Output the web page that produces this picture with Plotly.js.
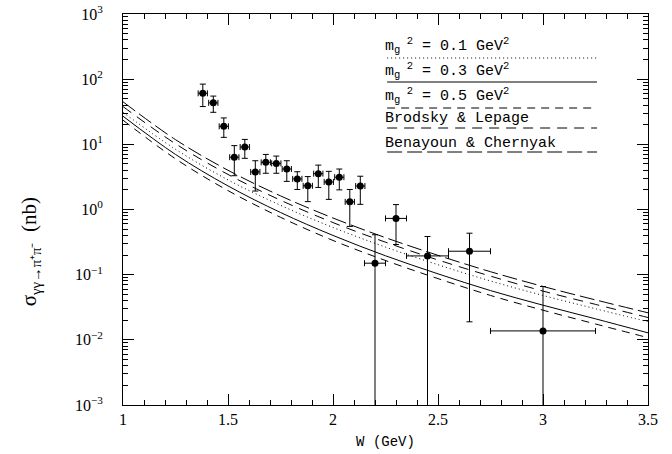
<!DOCTYPE html>
<html>
<head>
<meta charset="utf-8">
<script src="https://cdn.plot.ly/plotly-3.0.1.min.js"></script>
<style>html,body{margin:0;padding:0;background:#fff;}#chart{width:672px;height:454px;}</style>
</head>
<body>
<div id="chart"></div>
<script>
// ---- measured data points ----
var W = [1.38,1.43,1.48,1.53,1.58,1.63,1.68,1.73,1.78,1.83,1.88,1.93,1.98,2.03,2.08,2.13,2.20,2.30,2.45,2.65,3.00];
var sigma = [60.7,43.3,18.9,6.35,9.1,3.77,5.3,5.1,4.18,2.95,2.31,3.55,2.65,3.13,1.31,2.29,0.150,0.73,0.194,0.229,0.0137];
var sigmaHigh = [84,55,25.4,9.55,11.9,5.6,7.0,6.6,5.6,3.8,3.2,4.8,3.85,4.18,2.03,3.24,0.41,1.19,0.385,0.433,0.0658];
// 0 = error bar runs down past the bottom of the axis
var sigmaLow = [38,31,12.8,3.3,6.1,1.92,3.6,3.6,2.7,2.03,1.32,2.18,1.43,2.0,0.55,1.2,0,0.29,0,0.0189,0];
var Werr = [0.022,0.022,0.022,0.022,0.022,0.022,0.022,0.022,0.022,0.022,0.022,0.022,0.022,0.022,0.022,0.022,0.05,0.05,0.1,0.1,0.25];

// ---- theory curves ----
var Wc = [1,1.25,1.5,1.75,2,2.25,2.5,2.75,3,3.25,3.5];
var mg01 = [31,8.4,2.85,1.16,0.53,0.265,0.142,0.080,0.048,0.030,0.019];
var mg03 = [27,7.0,2.3,0.90,0.40,0.195,0.103,0.057,0.034,0.021,0.0128];
var mg05 = [23.5,6.0,1.95,0.76,0.335,0.165,0.087,0.048,0.0285,0.0175,0.0108];
var brodsky = [38,10.2,3.45,1.39,0.63,0.315,0.168,0.095,0.056,0.035,0.022];
var benayoun = [45,11.8,4.0,1.62,0.74,0.37,0.198,0.111,0.066,0.041,0.026];

var legendLabels = ["m<sub>g</sub><sup> 2</sup> = 0.1 GeV<sup>2</sup>",
                    "m<sub>g</sub><sup> 2</sup> = 0.3 GeV<sup>2</sup>",
                    "m<sub>g</sub><sup> 2</sup> = 0.5 GeV<sup>2</sup>",
                    "Brodsky & Lepage",
                    "Benayoun & Chernyak"];
var yTickVals = [0.001,0.01,0.1,1,10,100,1000];
var yTickText = ["10<sup>−3</sup>","10<sup>−2</sup>","10<sup>−1</sup>","10<sup>0</sup>","10<sup>1</sup>","10<sup>2</sup>","10<sup>3</sup>"];
var xTickVals = [1,1.5,2,2.5,3,3.5];
var xTickText = ["1","1.5","2","2.5","3","3.5"];

var dashes = ["1px,3px","solid","8px,6px","10px,7px","15px,5px"];
var curves = [mg01, mg03, mg05, brodsky, benayoun];

var errPlus = sigma.map(function(s,i){return sigmaHigh[i]-s;});
var errMinus = sigma.map(function(s,i){return sigmaLow[i] > 0 ? s - sigmaLow[i] : s*0.9999;});

var traces = curves.map(function(c,i){
  return {x: Wc, y: c, type:'scatter', mode:'lines',
          line:{color:'#000', width:1, dash:dashes[i], shape:'spline'},
          hoverinfo:'skip', showlegend:false};
});
traces.push({
  x: W, y: sigma, type:'scatter', mode:'markers',
  marker:{color:'#000', size:7, symbol:'circle'},
  error_y:{type:'data', array:errPlus, arrayminus:errMinus, symmetric:false, color:'#000', thickness:1, width:3},
  error_x:{type:'data', array:Werr, color:'#000', thickness:1, width:3},
  showlegend:false
});

var L = 122.7, R = 648, T = 14, B = 405;
var pw = R-L, ph = B-T;
function px(x){return (x-L)/pw;}
function py(y){return 1-(y-T)/ph;}

var shapes = [];
var annotations = [];
var lineY = [58,82,108,128,152];
var textY = [46,70,95,118,143];
for (var i=0;i<5;i++){
  shapes.push({type:'line', xref:'paper', yref:'paper', x0:px(387), x1:px(597), y0:py(lineY[i]), y1:py(lineY[i]),
               line:{color:'#000', width:1, dash:dashes[i]}});
  annotations.push({xref:'paper', yref:'paper', x:px(383), y:py(textY[i]), xanchor:'left', yanchor:'middle',
                    text:legendLabels[i], showarrow:false,
                    font:{family:'Liberation Mono, monospace', size:15, color:'#000'}});
}
annotations.push({xref:'paper', yref:'paper', x:px(30), y:py(252), xanchor:'center', yanchor:'middle',
  textangle:-90, showarrow:false,
  text:'σ<sub>γγ→π⁺π⁻</sub>  (nb)', font:{family:'Liberation Serif, serif', size:21, color:'#000'}});

var layout = {
  width:672, height:454,
  margin:{l:L, r:672-R, t:T, b:454-B, pad:0},
  paper_bgcolor:'#fff', plot_bgcolor:'#fff',
  showlegend:false,
  xaxis:{range:[1,3.5], tickmode:'array', tickvals:xTickVals, ticktext:xTickText,
         ticks:'inside', ticklen:11, tickwidth:1, tickcolor:'#000',
         minor:{ticks:'inside', dtick:0.1, tick0:1, ticklen:5, tickwidth:1, tickcolor:'#000'},
         showline:true, linecolor:'#000', linewidth:1, mirror:'allticks', showgrid:false, zeroline:false,
         tickfont:{family:'Liberation Serif, serif', size:16, color:'#000'},
         title:{text:'W (GeV)', font:{family:'Liberation Mono, monospace', size:14, color:'#000'}, standoff:8}},
  yaxis:{type:'log', range:[-3,3], tickmode:'array', tickvals:yTickVals, ticktext:yTickText,
         ticks:'inside', ticklen:11, tickwidth:1, tickcolor:'#000',
         minor:{ticks:'inside', dtick:'D1', ticklen:5, tickwidth:1, tickcolor:'#000'},
         showline:true, linecolor:'#000', linewidth:1, mirror:'allticks', showgrid:false, zeroline:false,
         ticklabelstandoff:16, ticklabeloverflow:'allow',
         tickfont:{family:'Liberation Serif, serif', size:16, color:'#000'}},
  shapes:shapes,
  annotations:annotations
};
Plotly.newPlot('chart', traces, layout, {staticPlot:true, displayModeBar:false});
</script>
</body>
</html>
